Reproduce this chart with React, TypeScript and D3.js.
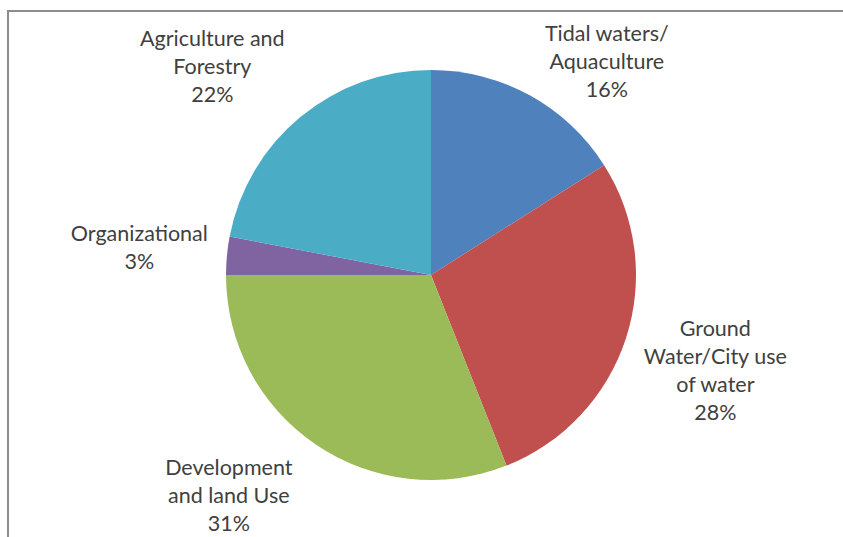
import React from "react";
import * as d3 from "d3";

const categories: string[][] = [
  ["Tidal waters/", "Aquaculture"],
  ["Ground", "Water/City use", "of water"],
  ["Development", "and land Use"],
  ["Organizational"],
  ["Agriculture and", "Forestry"],
];
const values: number[] = [16, 28, 31, 3, 22];
const colors: string[] = ["#4F81BD", "#C0504D", "#9BBB59", "#8064A2", "#4BACC6"];

// label layout: angular shift (degrees) from slice mid-angle, and radius of label block centre
const labelShift: number[] = [10.6, 0.6, 8.4, 0.1, -6.8];
const labelRadius: number[] = [277, 300, 298.7, 293, 302];

const W = 843;
const H = 537;
const cx = 431;
const cy = 275;
const R = 205;
const lineH = 28;
const fontSize = 21.5;

export default function App() {
  const pie = d3
    .pie<number>()
    .sort(null)
    .value((d) => d)
    .startAngle(0)
    .endAngle(2 * Math.PI);
  const arcs = pie(values);
  const arc = d3.arc<d3.PieArcDatum<number>>().innerRadius(0).outerRadius(R);
  const total = d3.sum(values);

  return (
    <svg
      width={W}
      height={H}
      style={{ position: "absolute", left: 0, top: 0, background: "#fff" }}
    >
      <rect x={8} y={11} width={W + 20} height={H + 20} fill="#fff" stroke="#8c8c8c" strokeWidth={2} />
      <g transform={`translate(${cx},${cy})`}>
        {arcs.map((a, i) => (
          <path key={i} d={arc(a) || ""} fill={colors[i]} />
        ))}
      </g>
      {arcs.map((a, i) => {
        const mid = (a.startAngle + a.endAngle) / 2 + (labelShift[i] * Math.PI) / 180;
        const lx = cx + labelRadius[i] * Math.sin(mid);
        const ly = cy - labelRadius[i] * Math.cos(mid);
        const lines = [...categories[i], `${Math.round((values[i] / total) * 100)}%`];
        const n = lines.length;
        return (
          <text
            key={i}
            x={lx}
            y={ly}
            textAnchor="middle"
            fontFamily="Lato, 'Open Sans', sans-serif"
            fontSize={fontSize}
            fill="#404040"
          >
            {lines.map((t, j) => (
              <tspan key={j} x={lx} y={ly + (j - (n - 1) / 2) * lineH + fontSize * 0.36}>
                {t}
              </tspan>
            ))}
          </text>
        );
      })}
    </svg>
  );
}
